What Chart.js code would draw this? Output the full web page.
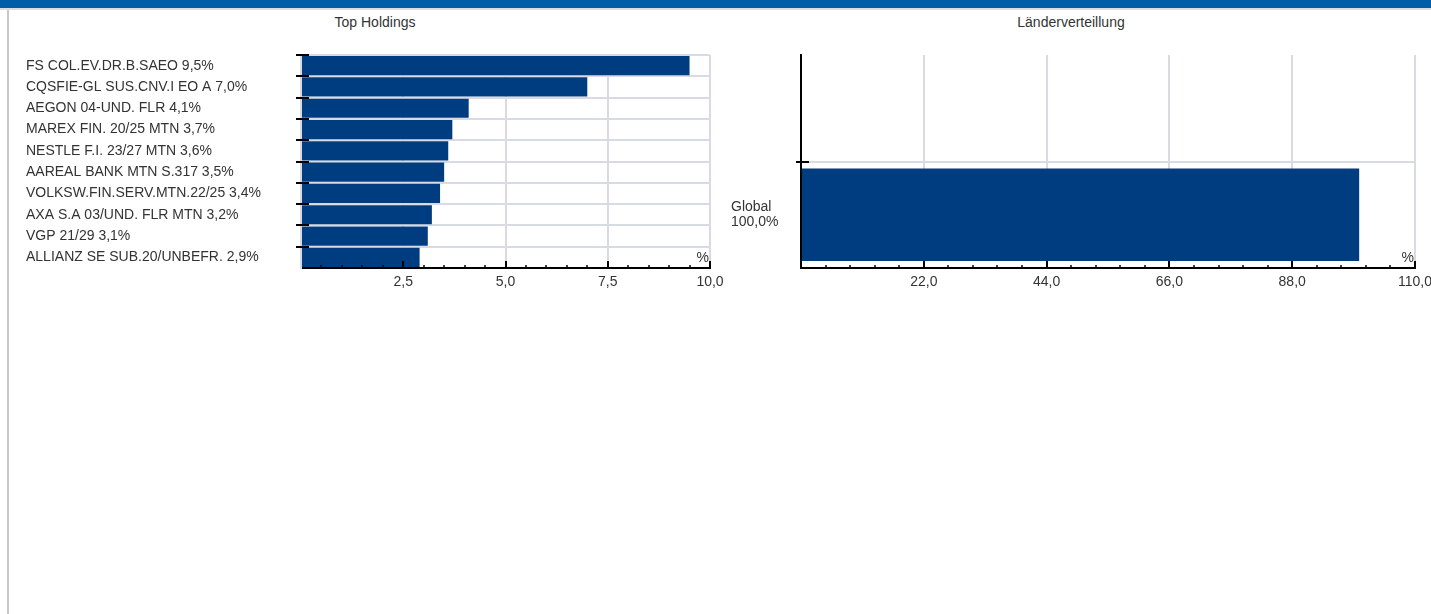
<!DOCTYPE html>
<html><head><meta charset="utf-8">
<script src="https://cdn.jsdelivr.net/npm/chart.js@4.4.1/dist/chart.umd.min.js"></script>
<style>
html,body{margin:0;padding:0;background:#fff;}
body{width:1431px;height:614px;position:relative;overflow:hidden;font-family:'Liberation Sans',Arial,sans-serif;}
#hdr{position:absolute;left:0;top:0;width:1431px;height:8px;background:#005ea8;}
#hdrline{position:absolute;left:0;top:8px;width:1431px;height:2px;background:#dcdcdc;}
#lborder{position:absolute;left:7px;top:10px;width:2px;height:604px;background:#c8c8c8;}
.ttl{position:absolute;top:14px;font-size:14px;line-height:16px;color:#333;width:300px;text-align:center;}
#c1wrap{position:absolute;left:8px;top:9px;width:734px;height:300px;}
#c2wrap{position:absolute;left:715px;top:9px;width:716px;height:300px;}
</style></head>
<body>
<div id="hdr"></div><div id="hdrline"></div><div id="lborder"></div>
<div class="ttl" style="left:225px">Top Holdings</div>
<div class="ttl" style="left:921px">Länderverteillung</div>
<div id="c1wrap"><canvas id="c1" width="734" height="300"></canvas></div>
<div id="c2wrap"><canvas id="c2" width="716" height="300"></canvas></div>
<script>
// ---- data ----
const holdingNames = ['FS COL.EV.DR.B.SAEO','CQSFIE-GL SUS.CNV.I EO A','AEGON 04-UND. FLR','MAREX FIN. 20/25 MTN','NESTLE F.I. 23/27 MTN','AAREAL BANK MTN S.317','VOLKSW.FIN.SERV.MTN.22/25','AXA S.A 03/UND. FLR MTN','VGP 21/29','ALLIANZ SE SUB.20/UNBEFR.'];
const holdingValues = [9.5, 7.0, 4.1, 3.7, 3.6, 3.5, 3.4, 3.2, 3.1, 2.9];
const countryNames = ['Global'];
const countryValues = [100.0];
const leftTicks = [0, 2.5, 5, 7.5, 10];
const rightTicks = [0, 22, 44, 66, 88, 110];

const FONT = {family:"'Liberation Sans', Arial, sans-serif", size:14, lineHeight:1.1};
const TXT = '#333333';
const GRID = '#d8dbe3';
const BAR = '#003d80';
function fmt(v){ return Number(v).toFixed(1).replace('.', ','); }

const axisTicks = {
  id:'axisTicks',
  afterDatasetsDraw(chart, args, opts){
    const ctx = chart.ctx, a = chart.chartArea;
    const xs = chart.scales.x, ys = chart.scales.y;
    ctx.save();
    ctx.strokeStyle = '#000';
    ctx.lineWidth = 2;
    const n = ys.ticks.length;
    for (let i = 0; i < n; i++) {
      if ((opts.skipY || []).includes(i)) continue;
      const y = Math.round(ys.getPixelForValue(i - 0.5));
      ctx.beginPath(); ctx.moveTo(a.left - 5, y); ctx.lineTo(a.left + 8, y); ctx.stroke();
    }
    const majors = opts.majors || [];
    const steps = Math.round((xs.max - xs.min) / opts.minor);
    for (let k = 1; k <= steps; k++) {
      const v = xs.min + k * opts.minor;
      const isMajor = majors.some(m => Math.abs(m - v) < 1e-6);
      const x = Math.round(xs.getPixelForValue(v));
      ctx.lineWidth = isMajor ? 2 : 1.5;
      ctx.beginPath(); ctx.moveTo(x, a.bottom); ctx.lineTo(x, a.bottom - (isMajor ? 7 : 3)); ctx.stroke();
    }
    ctx.fillStyle = TXT;
    ctx.font = "14px 'Liberation Sans', Arial, sans-serif";
    ctx.textAlign = 'right'; ctx.textBaseline = 'bottom';
    ctx.fillText('%', a.right - 1, a.bottom - 3);
    ctx.restore();
  }
};

function makeChart(id, cfg) {
  return new Chart(document.getElementById(id), {
    type:'bar',
    data:{labels:cfg.labels, datasets:[{data:cfg.values, backgroundColor:BAR, borderWidth:0, barPercentage:cfg.barPct, categoryPercentage:1}]},
    options:{
      indexAxis:'y', responsive:false, animation:false, devicePixelRatio:1,
      layout:{padding:cfg.padding},
      plugins:{legend:{display:false}, tooltip:{enabled:false}, title:{display:false}, axisTicks:cfg.tickOpts},
      scales:{
        x:{type:'linear', position:'bottom', min:cfg.ticks[0], max:cfg.ticks[cfg.ticks.length-1],
           afterBuildTicks:s => { s.ticks = cfg.ticks.map(v => ({value:v})); },
           afterFit:s => { s.height = 41; s.paddingLeft = 0; s.paddingRight = 0; },
           grid:{color:c => (c.index === 0 || c.index === undefined) ? 'rgba(0,0,0,0)' : GRID, lineWidth:2, drawTicks:false},
           border:{color:'#000', width:2},
           ticks:{padding:6, color:TXT, font:FONT, autoSkip:false, maxRotation:0,
                  callback:v => v === 0 ? '' : fmt(v)}},
        y:{type:'category', position:'left',
           afterFit:s => { s.width = cfg.yWidth; s.paddingTop = 0; s.paddingBottom = 0; },
           grid:{color:c => (c.index === undefined || (cfg.hideGrid || []).includes(c.index)) ? 'rgba(0,0,0,0)' : GRID, lineWidth:2, drawTicks:false, offset:true},
           border:{color:cfg.yBorder, width:2},
           ticks:{crossAlign:'far', padding:0, color:TXT, font:FONT, autoSkip:false}}
      }
    },
    plugins:[axisTicks]
  });
}

makeChart('c1', {
  labels: holdingNames.map((n, i) => n + ' ' + fmt(holdingValues[i]) + '%'),
  values: holdingValues,
  barPct: 0.9,
  padding:{left:18, top:46, right:32, bottom:0},
  ticks: leftTicks,
  yWidth: 275,
  yBorder: GRID,
  hideGrid: [],
  tickOpts:{minor:0.5, majors:leftTicks, skipY:[]}
});

makeChart('c2', {
  labels: [''].concat(countryNames.map((n, i) => [n, fmt(countryValues[i]) + '%'])),
  values: [null].concat(countryValues),
  barPct: 0.87,
  padding:{left:16, top:46, right:16, bottom:0},
  ticks: rightTicks,
  yWidth: 70,
  yBorder: '#000',
  hideGrid: [0],
  tickOpts:{minor:4.4, majors:rightTicks, skipY:[0]}
});
</script>
</body></html>
